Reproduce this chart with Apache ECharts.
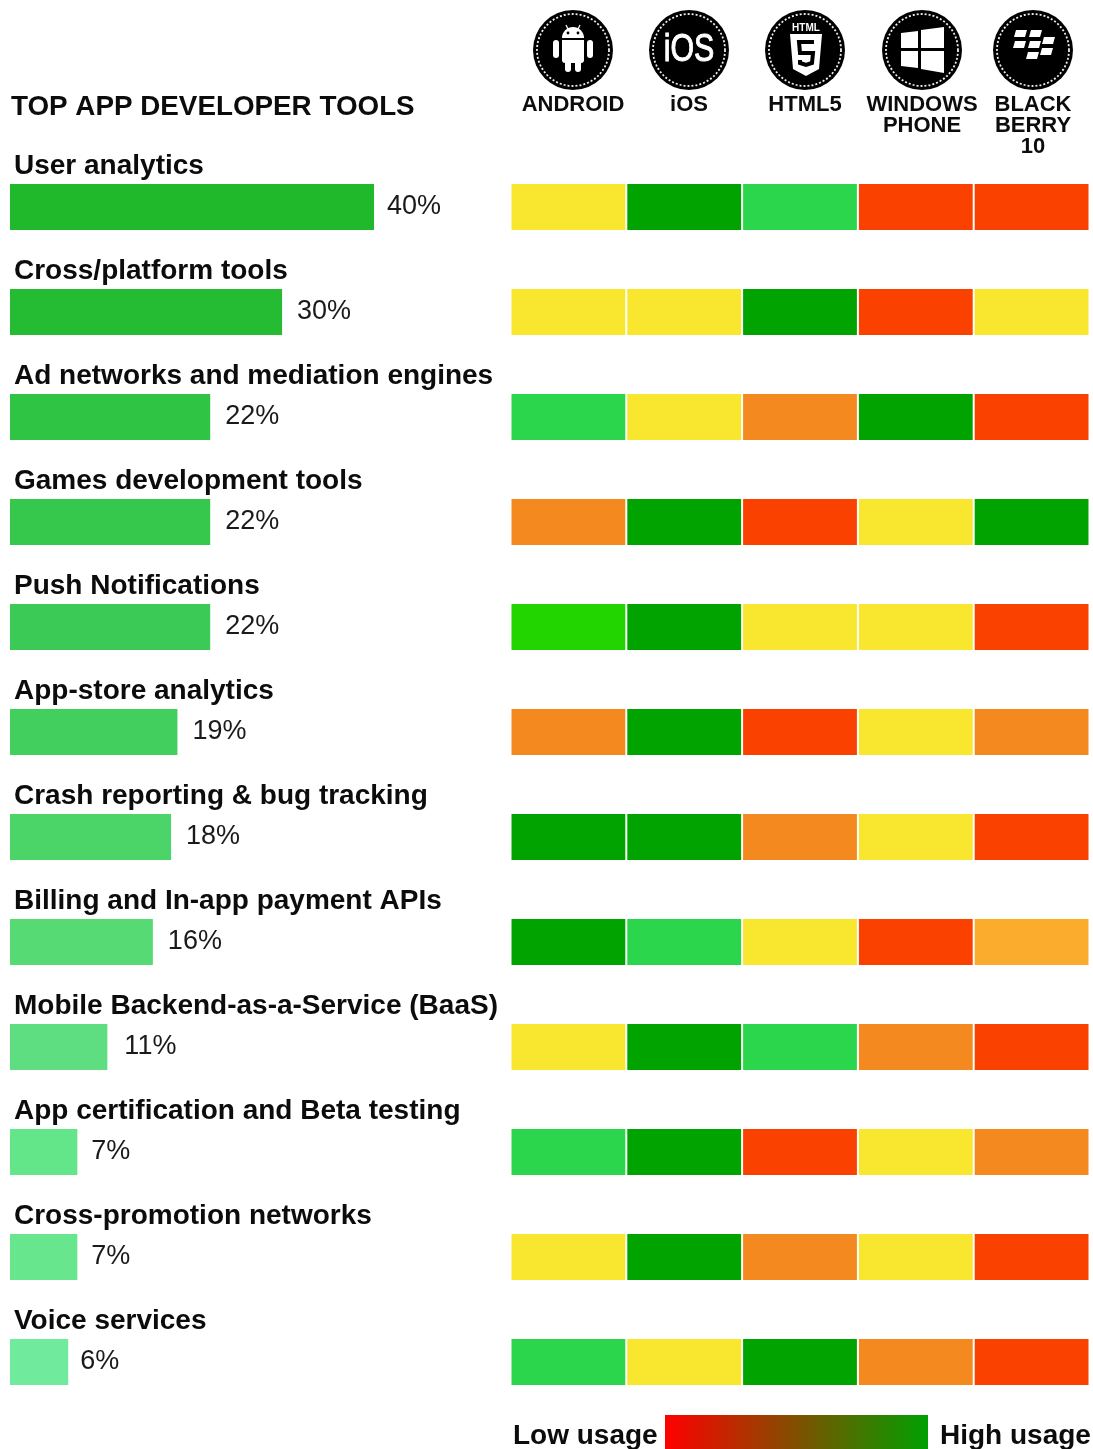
<!DOCTYPE html>
<html>
<head>
<meta charset="utf-8">
<style>html,body{margin:0;padding:0;background:#fff}#c{width:1093px;height:1449px}</style>
<script src="https://cdn.jsdelivr.net/npm/echarts@6/dist/echarts.min.js"></script>
</head>
<body>
<div id="c"></div>
<script>
const titleText = 'TOP APP DEVELOPER TOOLS';
const tools = ['User analytics','Cross/platform tools','Ad networks and mediation engines','Games development tools','Push Notifications','App-store analytics','Crash reporting & bug tracking','Billing and In-app payment APIs','Mobile Backend-as-a-Service (BaaS)','App certification and Beta testing','Cross-promotion networks','Voice services'];
const shareLabels = ['40%','30%','22%','22%','22%','19%','18%','16%','11%','7%','7%','6%'];
const barLengths = [40,29.9,22,22,22,18.4,17.7,15.7,10.7,7.4,7.4,6.4];
const barColors = ['#1fb92b','#25bc34','#30c445','#36c84d','#3bca55','#43cf5e','#4bd568','#56da74','#5ede80','#63e589','#67e68e','#70eb9d'];
const platforms = ['ANDROID','iOS','HTML5','WINDOWS\nPHONE','BLACK\nBERRY\n10'];
const platformKeys = ['Android','iOS','HTML5','Windows Phone','BlackBerry 10'];
const usageColors = {R:'#fb4100',O:'#f4891f',A:'#fbac2d',Y:'#f9e62e',G:'#2bd64c',B:'#22d400',D:'#00a300'};
const usageRows = ['YDGRR','YYDRY','GYODR','ODRYD','BDYYR','ODRYO','DDOYR','DGYRA','YDGOR','GDRYO','YDOYR','GYDOR'];
const headerCenters = [573,689,805,922,1033];

const FONT = '"Liberation Sans", Arial, Helvetica, sans-serif';
const INK = '#0c0c0c';
const cells = [];
usageRows.forEach((r,ri)=>{r.split('').forEach((k,ci)=>cells.push([ci,ri,k]));});

function badge(cx, children){
  return {type:'group',x:cx,y:50,silent:true,children:[
    {type:'circle',shape:{cx:0,cy:0,r:40},style:{fill:'#000'}},
    {type:'circle',shape:{cx:0,cy:0,r:36},style:{fill:'none',stroke:'#eeeeee',lineWidth:1.8,lineDash:[2,2]}}
  ].concat(children)};
}
const W={fill:'#fff'}, K={fill:'#000'};
const iconAndroid=[
  {type:'sector',shape:{cx:0,cy:-12,r:11,r0:0,startAngle:Math.PI,endAngle:Math.PI*2},style:W},
  {type:'rect',shape:{x:-11,y:-10,width:22,height:23,r:[0,0,3,3]},style:W},
  {type:'rect',shape:{x:-20,y:-10,width:6,height:18,r:3},style:W},
  {type:'rect',shape:{x:14,y:-10,width:6,height:18,r:3},style:W},
  {type:'rect',shape:{x:-8,y:8,width:6,height:14,r:3},style:W},
  {type:'rect',shape:{x:2,y:8,width:6,height:14,r:3},style:W},
  {type:'line',shape:{x1:-7,y1:-25,x2:-5,y2:-21},style:{stroke:'#fff',lineWidth:1.2}},
  {type:'line',shape:{x1:7,y1:-25,x2:5,y2:-21},style:{stroke:'#fff',lineWidth:1.2}},
  {type:'circle',shape:{cx:-5,cy:-17,r:1.4},style:K},
  {type:'circle',shape:{cx:5,cy:-17,r:1.4},style:K}
];
const iconIos=[{type:'text',x:0,y:1,scaleX:0.8,style:{text:'iOS',font:'38px '+FONT,fill:'#fff',stroke:'#fff',lineWidth:1,align:'center',verticalAlign:'middle'}}];
const iconHtml=[
  {type:'text',x:1,y:-22,style:{text:'HTML',font:'bold 10px '+FONT,fill:'#fff',align:'center',verticalAlign:'middle'}},
  {type:'polygon',shape:{points:[[-15,-16],[17,-16],[14,19],[1,26],[-12,19]]},style:W},
  {type:'polyline',shape:{points:[[9,-8],[-6,-8],[-5,3],[8,3],[7,13],[1,15],[-5,13],[-5,10]]},style:{stroke:'#000',lineWidth:4,fill:'none'}}
];
const iconWin=[
  {type:'polygon',shape:{points:[[-21,-17],[-4,-19],[-4,-2],[-21,-2]]},style:W},
  {type:'polygon',shape:{points:[[-1,-20],[22,-23],[22,-2],[-1,-2]]},style:W},
  {type:'polygon',shape:{points:[[-21,1],[-4,1],[-4,18],[-21,16]]},style:W},
  {type:'polygon',shape:{points:[[-1,1],[22,1],[22,23],[-1,19]]},style:W}
];
const iconBb=[[-19,-20],[-4,-20],[-20,-9],[-5,-9],[9,-13],[7,-2],[-7,2]].map(p=>(
  {type:'polygon',shape:{points:[[p[0]+2,p[1]],[p[0]+13,p[1]],[p[0]+11,p[1]+7],[p[0],p[1]+7]]},style:W}
));
const iconSets=[iconAndroid,iconIos,iconHtml,iconWin,iconBb];

const graphics=[];
graphics.push({type:'text',x:11,y:107,silent:true,style:{text:titleText,font:'bold 27.8px '+FONT,fill:INK,verticalAlign:'middle'}});
platforms.forEach((p,i)=>{
  graphics.push(badge(headerCenters[i],iconSets[i]));
  graphics.push({type:'text',x:headerCenters[i],y:94,silent:true,style:{text:p,font:'bold 22px '+FONT,lineHeight:21,fill:INK,align:'center',verticalAlign:'top'}});
});
graphics.push({type:'text',x:513,y:1436,silent:true,style:{text:'Low usage',font:'bold 28px '+FONT,fill:INK,verticalAlign:'middle'}});
graphics.push({type:'rect',silent:true,shape:{x:665,y:1415,width:263,height:34},style:{fill:new echarts.graphic.LinearGradient(0,0,1,0,[{offset:0,color:'#ff0000'},{offset:1,color:'#00a000'}])}});
graphics.push({type:'text',x:940,y:1436,silent:true,style:{text:'High usage',font:'bold 28px '+FONT,fill:INK,verticalAlign:'middle'}});

const labelGap = i => i===0 ? 13 : i===8 ? 17 : i===11 ? 12 : i===9||i===10 ? 14 : 15;

const chart=echarts.init(document.getElementById('c'),null,{renderer:'canvas',width:1093,height:1449});
chart.setOption({
  animation:false,
  backgroundColor:'#fff',
  grid:[
    {left:10,width:364,top:154.5,height:1260,containLabel:false},
    {left:510.5,width:579,top:154.5,height:1260,containLabel:false}
  ],
  xAxis:[
    {type:'value',gridIndex:0,min:0,max:40,show:false},
    {type:'category',gridIndex:1,data:platformKeys,show:false}
  ],
  yAxis:[
    {type:'category',gridIndex:0,data:tools,inverse:true,show:false},
    {type:'category',gridIndex:1,data:tools,inverse:true,show:false}
  ],
  series:[
    {type:'bar',xAxisIndex:0,yAxisIndex:0,barWidth:46,silent:true,
     data:barLengths.map((v,i)=>({value:v,itemStyle:{color:barColors[i]},label:{distance:labelGap(i)}})),
     label:{show:true,position:'right',offset:[0,0],fontSize:27,fontFamily:FONT,color:'#1a1a1a',lineHeight:29,
       formatter:p=>shareLabels[p.dataIndex]}},
    {type:'custom',xAxisIndex:0,yAxisIndex:0,silent:true,clip:false,
     data:tools.map((t,i)=>[0,i,t]),
     encode:{x:0,y:1},
     renderItem:(params,api)=>{
       const p=api.coord([0,api.value(1)]);
       return {type:'text',x:p[0]+4,y:p[1]-41,style:{text:tools[api.value(1)],font:'bold 28px '+FONT,fill:INK,verticalAlign:'middle'}};
     }},
    {type:'custom',xAxisIndex:1,yAxisIndex:1,silent:true,clip:false,
     data:cells,
     encode:{x:0,y:1},
     renderItem:(params,api)=>{
       const p=api.coord([api.value(0),api.value(1)]);
       const s=api.size([1,1]);
       const k=cells[params.dataIndex][2];
       return {type:'rect',shape:{x:p[0]-s[0]/2+1,y:p[1]-23,width:s[0]-2,height:46},style:{fill:usageColors[k]}};
     }}
  ],
  graphic:graphics
});
</script>
</body>
</html>
